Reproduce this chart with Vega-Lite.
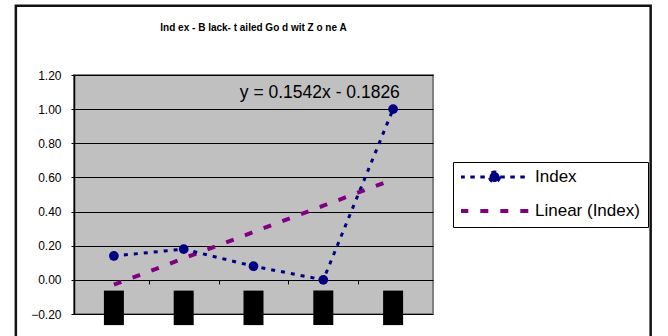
{
  "$schema": "https://vega.github.io/schema/vega-lite/v6.json",
  "width": 359,
  "height": 239,
  "autosize": {"type": "none"},
  "padding": {"left": 74, "top": 75, "right": 235, "bottom": 22},
  "background": "white",
  "config": {
    "font": "Liberation Sans",
    "view": {"fill": "#C0C0C0", "stroke": "#808080", "strokeWidth": 2}
  },
  "title": {
    "text": "Ind ex - B lack- t ailed Go d wit Z o ne A",
    "font": "Liberation Sans",
    "fontSize": 10,
    "fontWeight": "bold",
    "color": "black",
    "offset": -28
  },
  "data": {
    "values": [
      {"x": 1, "series": "Index", "value": 0.14},
      {"x": 2, "series": "Index", "value": 0.18},
      {"x": 3, "series": "Index", "value": 0.08},
      {"x": 4, "series": "Index", "value": 0.0},
      {"x": 5, "series": "Index", "value": 1.0},
      {"x": 1, "series": "Linear (Index)", "value": -0.0284},
      {"x": 2, "series": "Linear (Index)", "value": 0.1258},
      {"x": 3, "series": "Linear (Index)", "value": 0.28},
      {"x": 4, "series": "Linear (Index)", "value": 0.4342},
      {"x": 5, "series": "Linear (Index)", "value": 0.5884}
    ]
  },
  "layer": [
    {
      "description": "axes and grid of the plot area",
      "mark": {"type": "point", "opacity": 0},
      "encoding": {
        "x": {
          "field": "x",
          "type": "quantitative",
          "scale": {"domain": [0.5, 5.5], "nice": false, "zero": false},
          "axis": {
            "orient": "bottom",
            "offset": -34.1,
            "values": [1.5, 2.5, 3.5, 4.5],
            "tickCount": 10,
            "labels": false,
            "domain": false,
            "grid": false,
            "ticks": true,
            "tickColor": "black",
            "tickSize": 4,
            "tickWidth": 1,
            "title": null
          }
        },
        "y": {
          "field": "value",
          "type": "quantitative",
          "scale": {"domain": [-0.2, 1.2], "nice": false, "zero": false},
          "axis": {
            "values": [-0.2, 0, 0.2, 0.4, 0.6, 0.8, 1.0, 1.2],
            "tickCount": 10,
            "format": ".2f",
            "grid": true,
            "gridColor": "black",
            "gridWidth": 1,
            "gridOpacity": 1,
            "domain": true,
            "domainColor": "black",
            "domainWidth": 1.5,
            "tickColor": "black",
            "tickSize": 3,
            "labelFontSize": 12,
            "labelColor": "black",
            "labelFont": "Liberation Sans",
            "labelPadding": 10,
            "labelOverlap": false,
            "labelFlush": false,
            "title": null
          }
        }
      }
    },
    {
      "description": "chart frame",
      "data": {"values": [{}]},
      "mark": {"type": "rect", "fill": null, "stroke": "#111111", "strokeWidth": 2.5, "clip": false},
      "encoding": {
        "x": {"datum": -0.405, "type": "quantitative"},
        "x2": {"datum": 8.69},
        "y": {"datum": 1.605, "type": "quantitative"},
        "y2": {"datum": -0.36}
      }
    },
    {
      "description": "category label boxes",
      "data": {"values": [{"x": 1}, {"x": 2}, {"x": 3}, {"x": 4}, {"x": 5}]},
      "mark": {"type": "bar", "width": 20, "color": "black", "clip": false},
      "encoding": {
        "x": {"field": "x", "type": "quantitative"},
        "y": {"datum": -0.063, "type": "quantitative"},
        "y2": {"datum": -0.265}
      }
    },
    {
      "description": "linear trend line",
      "transform": [{"filter": "datum.series === 'Linear (Index)'"}],
      "mark": {"type": "line", "strokeWidth": 4, "strokeDash": [8, 12]},
      "encoding": {
        "x": {"field": "x", "type": "quantitative"},
        "y": {"field": "value", "type": "quantitative"},
        "color": {
          "field": "series",
          "type": "nominal",
          "scale": {"domain": ["Index", "Linear (Index)"], "range": ["#000080", "#800080"]},
          "legend": {
            "orient": "none",
            "legendX": 379,
            "legendY": 87,
            "title": null,
            "symbolType": "stroke",
            "symbolSize": 4624,
            "symbolStrokeWidth": 3,
            "clipHeight": 14,
            "padding": 8,
            "rowPadding": 17,
            "labelOffset": 57,
            "labelFontSize": 17,
            "labelFont": "Liberation Sans",
            "labelColor": "black",
            "labelExpr": "datum.label + '\u00a0\u00a0\u00a0\u00a0'",
            "strokeColor": "black",
            "fillColor": "white",
            "encode": {
              "symbols": {
                "update": {
                  "shape": {"signal": "datum.label === 'Index' ? 'M-0.27,0H1.73M0.883,0A0.147,0.147,0,1,1,0.589,0A0.147,0.147,0,1,1,0.883,0Z' : 'M-0.27,0H1.73'"},
                  "fill": {"signal": "datum.label === 'Index' ? '#000080' : 'transparent'"},
                  "strokeDash": {"signal": "datum.label === 'Index' ? [4.5, 5.5] : [8, 12]"},
                  "strokeWidth": {"signal": "datum.label === 'Index' ? 3 : 4"}
                }
              }
            }
          }
        }
      }
    },
    {
      "description": "index series line",
      "transform": [{"filter": "datum.series === 'Index'"}],
      "mark": {"type": "line", "strokeWidth": 3, "strokeDash": [4, 6]},
      "encoding": {
        "x": {"field": "x", "type": "quantitative"},
        "y": {"field": "value", "type": "quantitative"},
        "color": {"field": "series", "type": "nominal"}
      }
    },
    {
      "description": "index series markers",
      "transform": [{"filter": "datum.series === 'Index'"}],
      "mark": {"type": "circle", "size": 95, "color": "#000080", "opacity": 1},
      "encoding": {
        "x": {"field": "x", "type": "quantitative"},
        "y": {"field": "value", "type": "quantitative"}
      }
    },
    {
      "description": "trend line equation",
      "data": {"values": [{"label": "y = 0.1542x - 0.1826"}]},
      "mark": {"type": "text", "fontSize": 17.5, "font": "Liberation Sans", "color": "black", "align": "center", "baseline": "middle"},
      "encoding": {
        "x": {"datum": 3.95, "type": "quantitative"},
        "y": {"datum": 1.095, "type": "quantitative"},
        "text": {"field": "label"}
      }
    }
  ]
}
